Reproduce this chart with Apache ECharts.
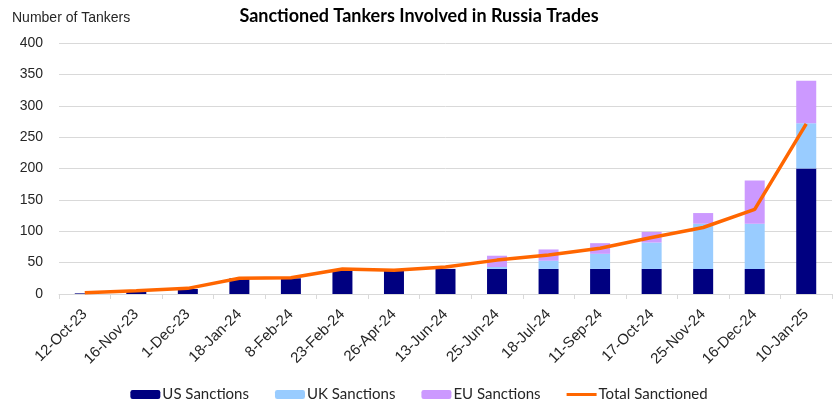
<!DOCTYPE html>
<html>
<head>
<meta charset="utf-8">
<script src="https://cdn.jsdelivr.net/npm/echarts@6/dist/echarts.min.js"></script>
<style>html,body{margin:0;padding:0;background:#fff}#c{width:838px;height:401px}</style>
</head>
<body>
<div id="c"></div>
<script>
const categories = ['12-Oct-23','16-Nov-23','1-Dec-23','18-Jan-24','8-Feb-24','23-Feb-24','26-Apr-24','13-Jun-24','25-Jun-24','18-Jul-24','11-Sep-24','17-Oct-24','25-Nov-24','16-Dec-24','10-Jan-25'];
const usSanctions = [1,4,8,25,25,39,37,40,40,40,40,40,40,40,200];
const ukSanctions = [0,0,0,0,0,0,0,0,3,13,24,42,72,72,72];
const euSanctions = [0,0,0,0,0,0,0,0,18,18,17,17,17,69,68];
const totalSanctioned = [2,5,9,25,26,40,38,43,54,62,73,90,106,135,271];

const chart = echarts.init(document.getElementById('c'), null, {renderer:'canvas'});
const txt = '#262626';
chart.setOption({
  animation:false,
  title:{text:'Sanctioned Tankers Involved in Russia Trades',left:'center',top:2,
    textStyle:{fontFamily:"Lato, sans-serif",fontWeight:'bold',fontSize:18,color:'#000'}},
  graphic:[{type:'text',left:12,top:11,style:{text:'Number of Tankers',font:"14px 'Liberation Sans', Arial, sans-serif",fill:txt}}],
  legend:{top:382,left:'center',itemWidth:30,itemHeight:9,itemGap:26,
    textStyle:{fontFamily:"Lato, sans-serif",fontSize:15,color:txt,padding:[0,0,0,-3]},
    data:['US Sanctions','UK Sanctions','EU Sanctions',
      {name:'Total Sanctioned',icon:'path://M0,0 M0,3 L30,3 L30,6 L0,6 Z M30,9'}]},
  grid:{left:59,right:6,top:43,bottom:107,containLabel:false},
  xAxis:{type:'category',data:categories,
    axisLine:{lineStyle:{color:'#d9d9d9'}},
    axisTick:{show:true,length:5,lineStyle:{color:'#d9d9d9'}},
    axisLabel:{rotate:45,margin:18,fontSize:15,color:txt,fontFamily:"'Liberation Sans', Arial, sans-serif",interval:0}},
  yAxis:{type:'value',min:0,max:400,interval:50,
    axisLine:{show:false},axisTick:{show:false},
    splitLine:{lineStyle:{color:'#d9d9d9',width:1}},
    axisLabel:{fontSize:14,color:txt,margin:16,fontFamily:"'Liberation Sans', Arial, sans-serif"}},
  series:[
    {name:'US Sanctions',type:'bar',stack:'s',data:usSanctions,barWidth:20,itemStyle:{color:'#000080'}},
    {name:'UK Sanctions',type:'bar',stack:'s',data:ukSanctions,barWidth:20,itemStyle:{color:'#99CCFF'}},
    {name:'EU Sanctions',type:'bar',stack:'s',data:euSanctions,barWidth:20,itemStyle:{color:'#CC99FF'}},
    {name:'Total Sanctioned',type:'line',data:totalSanctioned,symbol:'none',lineStyle:{color:'#FF6600',width:3.5},itemStyle:{color:'#FF6600'},z:5}
  ]
});
</script>
</body>
</html>
